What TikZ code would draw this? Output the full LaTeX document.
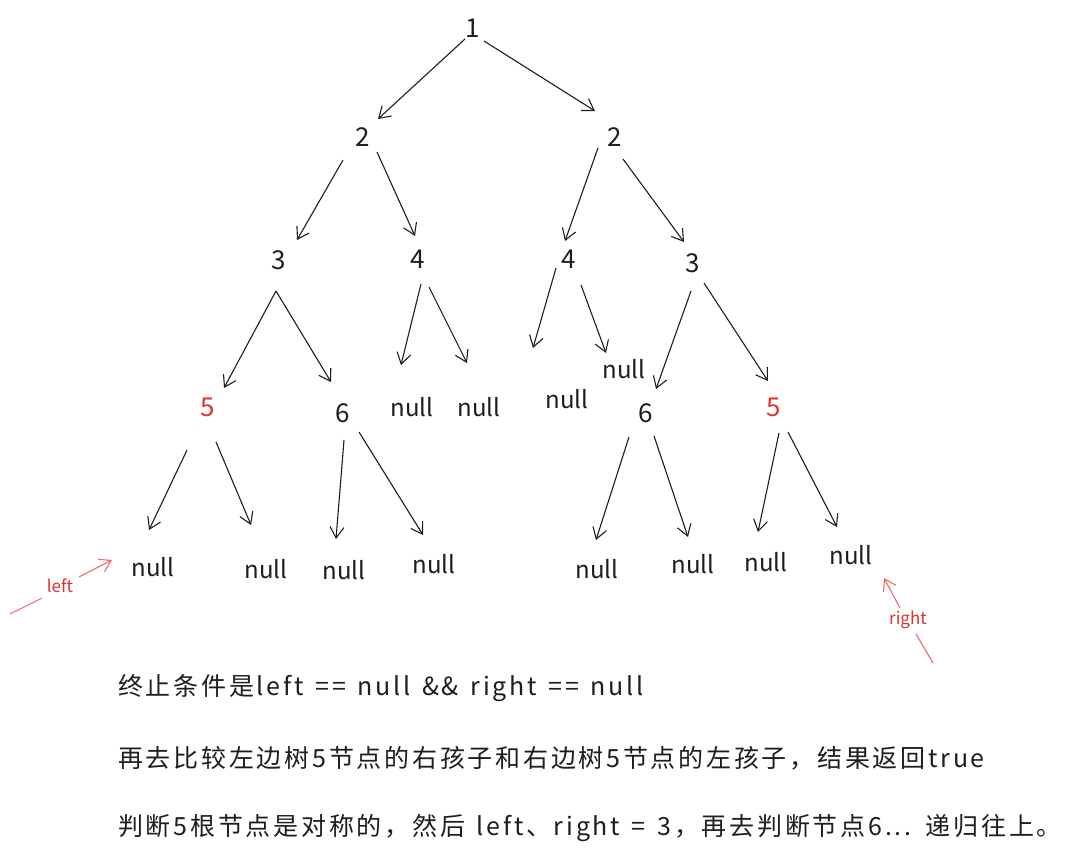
\documentclass[tikz,border=0pt]{standalone}
\usepackage{fontspec}
\setmainfont{Noto Sans CJK SC}
\newfontfamily\notefont[LetterSpace=11,WordSpace=1.4]{Noto Sans CJK SC}
\usetikzlibrary{arrows.meta}
\definecolor{inkred}{HTML}{E03131}
\definecolor{lightred}{HTML}{F06A6A}
\definecolor{ink}{HTML}{1E1E1E}
\tikzset{
  val/.style={text=ink, font=\fontsize{26}{30}\selectfont, inner sep=0pt},
  redval/.style={text=inkred, font=\fontsize{26}{30}\selectfont, inner sep=0pt},
  nul/.style={text=ink, font=\fontsize{24}{28}\selectfont, inner sep=0pt},
  edge/.style={draw=ink, line width=1.1pt, -{Straight Barb[length=11pt,width=14pt,line width=1.1pt]}},
  redarrow/.style={draw=lightred, line width=1.1pt},
  redtip/.style={draw=lightred, line width=1.1pt, -{Straight Barb[length=11pt,width=14pt,line width=1.1pt]}},
  redlabel/.style={text=inkred, font=\fontsize{17}{20}\selectfont, inner sep=0pt},
  note/.style={text=ink, font=\notefont\fontsize{25}{30}\selectfont, anchor=west, inner sep=0pt}
}
\begin{document}
\begin{tikzpicture}[x=1pt,y=-1pt]
\useasboundingbox (0,0) rectangle (1080,857);
\fill[white] (0,0) rectangle (1080,857);

% nodes
\node[val] (n1) at (473,28) {1};
\node[val] (n2l) at (363,137) {2};
\node[val] (n2r) at (615,137) {2};
\node[val] (n3l) at (279,260) {3};
\node[val] (n4l) at (418,259) {4};
\node[val] (n4r) at (569,259) {4};
\node[val] (n3r) at (693,263) {3};
\node[redval] (n5l) at (208,407) {5};
\node[val] (n6l) at (343,413) {6};
\node[nul] (nu4la) at (412,407) {null};
\node[nul] (nu4lb) at (479,407) {null};
\node[nul] (nu4ra) at (567,399) {null};
\node[nul] (nu4rb) at (624,369) {null};
\node[val] (n6r) at (646,413) {6};
\node[redval] (n5r) at (774,407) {5};
\node[nul] (nu5la) at (153,567) {null};
\node[nul] (nu5lb) at (266,569) {null};
\node[nul] (nu6la) at (344,570) {null};
\node[nul] (nu6lb) at (434,564) {null};
\node[nul] (nu6ra) at (597,569) {null};
\node[nul] (nu6rb) at (693,564) {null};
\node[nul] (nu5ra) at (766,562) {null};
\node[nul] (nu5rb) at (851,555) {null};

% connector end points
\coordinate (a1s) at (465,39);  \coordinate (a1e) at (378,119);
\coordinate (a2s) at (484,41);  \coordinate (a2e) at (595,111);
\coordinate (a3s) at (343,160); \coordinate (a3e) at (297,240);
\coordinate (a4s) at (377,152); \coordinate (a4e) at (415,236);
\coordinate (a5s) at (598,148); \coordinate (a5e) at (565,241);
\coordinate (a6s) at (623,159); \coordinate (a6e) at (684,242);
\coordinate (a7s) at (276,291); \coordinate (a7e) at (224,388);
\coordinate (a8s) at (276,291); \coordinate (a8e) at (331,382);
\coordinate (a9s) at (421,284); \coordinate (a9e) at (401,365);
\coordinate (a10s) at (429,287); \coordinate (a10e) at (467,363);
\coordinate (a11s) at (556,268); \coordinate (a11e) at (533,348);
\coordinate (a12s) at (581,285); \coordinate (a12e) at (606,353);
\coordinate (a13s) at (691,291); \coordinate (a13e) at (656,389);
\coordinate (a14s) at (704,283); \coordinate (a14e) at (768,381);
\coordinate (a15s) at (187,450); \coordinate (a15e) at (149,530);
\coordinate (a16s) at (216,442); \coordinate (a16e) at (251,525);
\coordinate (a17s) at (344,440); \coordinate (a17e) at (336,539);
\coordinate (a18s) at (359,432); \coordinate (a18e) at (423,535);
\coordinate (a19s) at (629,437); \coordinate (a19e) at (596,540);
\coordinate (a20s) at (654,436); \coordinate (a20e) at (688,537);
\coordinate (a21s) at (779,433); \coordinate (a21e) at (758,532);
\coordinate (a22s) at (788,432); \coordinate (a22e) at (837,527);

\foreach \i in {1,...,22} { \draw[edge] (a\i s) -- (a\i e); }

% red pointer arrows
\node[redlabel] (lleft) at (60,586) {left};
\coordinate (ls) at (10,614); \coordinate (lm1) at (42,598);
\coordinate (lm2) at (79,577); \coordinate (le) at (112,560);
\draw[redarrow] (ls) -- (lm1);
\draw[redtip] (lm2) -- (le);

\node[redlabel] (lright) at (908,620) {right};
\coordinate (rs) at (933,663); \coordinate (rm1) at (916,634);
\coordinate (rm2) at (900,608); \coordinate (re) at (884,578);
\draw[redarrow] (rs) -- (rm1);
\draw[redtip] (rm2) -- (re);

% notes
\node[note] (t1) at (118,688) {终止条件是left == null \&\& right == null};
\node[note] (t2) at (118,758) {再去比较左边树5节点的右孩子和右边树5节点的左孩子，结果返回true};
\node[note] (t3) at (118,828) {判断5根节点是对称的，然后 left、right = 3，再去判断节点6... 递归往上。};
\end{tikzpicture}
\end{document}
